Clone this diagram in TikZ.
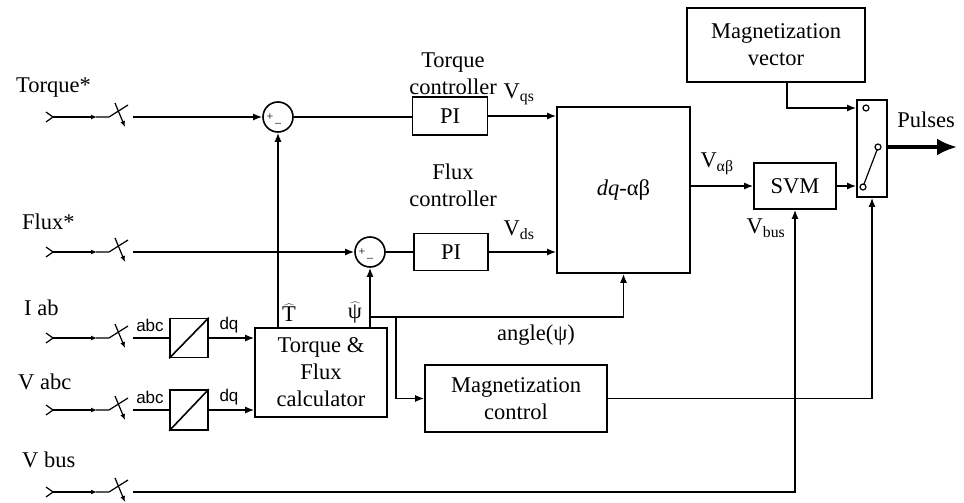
\documentclass[tikz,border=0pt]{standalone}
\usepackage{fontspec}
\setmainfont{Liberation Serif}
\newfontfamily\lsans{Liberation Sans}
\usetikzlibrary{arrows.meta}
\newcommand{\inpsym}[2]{%
  \begin{scope}[shift={(0,#2)}]
    \draw[line width=1.2pt] (46,-5) -- (53,0) -- (46,5);
    \draw[line width=1.2pt, -{Latex[length=6pt,width=5pt]}] (53,0) -- (97,0);
    \draw[line width=1.2pt] (96,0) -- (109,0) -- (128,-12);
    \draw[line width=1.2pt, -{Latex[length=6pt,width=5pt]}] (115,-14) -- (125,10);
    \coordinate (#1) at (133,0);
  \end{scope}}
\begin{document}
\begin{tikzpicture}[x=1pt,y=-1pt,
  every node/.style={font=\fontsize{22.5}{27}\selectfont, inner sep=0pt, align=center},
  blk/.style={draw, line width=1.6pt, rectangle},
  wire/.style={line width=1.6pt},
  arr/.style={line width=1.6pt, -{Latex[length=9pt,width=7pt]}},
  sumc/.style={draw, circle, line width=1.6pt, minimum size=30pt},
  small/.style={font=\lsans\fontsize{17}{17}\selectfont},
  sgn/.style={font=\fontsize{12}{12}\selectfont}]
\fill[white] (0,0) rectangle (964,503);
\useasboundingbox (0,0) rectangle (964,503);

% input labels
\node[anchor=west] (lT) at (16,88) {Torque*};
\node[anchor=west] (lF) at (22,222) {Flux*};
\node[anchor=west] (lI) at (24,308) {I ab};
\node[anchor=west] (lV) at (18,382) {V abc};
\node[anchor=west] (lB) at (22,460) {V bus};

% input symbols
\inpsym{inT}{117}
\inpsym{inF}{252}
\inpsym{inI}{338}
\inpsym{inV}{410}
\inpsym{inB}{492}

% blocks
\node[sumc] (s1) at (278,117) {};
\node[sumc] (s2) at (370,252) {};
\node[sgn] at ([xshift=-8pt]s1.center) {+};
\node[sgn] at ([yshift=-8pt]s1.center) {--};
\node[sgn] at ([xshift=-8pt]s2.center) {+};
\node[sgn] at ([yshift=-8pt]s2.center) {--};

\node[blk, minimum width=75pt, minimum height=38pt] (pi1) at (450,116) {PI};
\node[blk, minimum width=74pt, minimum height=37pt] (pi2) at (451,252) {PI};
\node[blk, minimum width=133pt, minimum height=166pt] (dq) at (623.5,190) {\textit{dq}-αβ};
\node[blk, minimum width=82pt, minimum height=46pt] (svm) at (795,186) {SVM};
\node[blk, minimum width=178pt, minimum height=74pt] (mv) at (776,45) {Magnetization\\vector};
\node[blk, minimum width=30pt, minimum height=97pt] (sw) at (872,148.5) {};
\node[blk, minimum width=132pt, minimum height=89pt] (calc) at (321,372.5) {Torque \&\\Flux\\calculator};
\node[blk, minimum width=182pt, minimum height=67pt] (mc) at (516,398.5) {Magnetization\\control};
\node[blk, minimum width=38pt, minimum height=39pt] (c1) at (189,338) {};
\node[blk, minimum width=38pt, minimum height=40pt] (c2) at (189,410) {};
\draw[wire] (c1.south west) -- (c1.north east);
\draw[wire] (c2.south west) -- (c2.north east);

% switch internals
\coordinate (swa) at (866,108);
\coordinate (swo) at (878,147);
\coordinate (swb) at (863,187);
\draw[line width=1.2pt] (swa) circle (3);
\draw[line width=1.2pt] (swo) circle (3);
\draw[line width=1.2pt] (swb) circle (3);
\draw[line width=1.2pt] ([shift={(1,-3)}]swb) -- ([shift={(-1,3)}]swo);

% labels
\node (lTc) at (453,74) {Torque\\controller};
\node (lFc) at (453,185) {Flux\\controller};
\node (vqs) at (519,94) {V\textsubscript{qs}};
\node (vds) at (519,230) {V\textsubscript{ds}};
\node (vab) at (717,164) {V\textsubscript{αβ}};
\node (vbus) at (766,228) {V\textsubscript{bus}};
\node (pul) at (926,120) {Pulses};
\node (ang) at (536,335) {angle(ψ)};
\node (that) at (289,313) {$\widehat{\hbox{T}}$};
\node (phat) at (355,313) {$\widehat{\hbox{ψ}}$};
\node[small] (a1) at (150,325) {abc};
\node[small] (d1) at (229,325) {dq};
\node[small] (a2) at (150,397) {abc};
\node[small] (d2) at (229,397) {dq};

% connectors
\draw[arr] (inT) -- (s1.west);
\draw[arr] (inF) -- (s2.west);
\draw[wire] (inI) -- (c1.west);
\draw[wire] (inV) -- (c2.west);
\draw[arr] (c1.east) -- (c1.east -| calc.west);
\draw[arr] (c2.east) -- (c2.east -| calc.west);
\draw[wire] (s1.east) -- (s1.east -| pi1.west);
\draw[wire] (s2.east) -- (pi2.west);
\draw[arr] (pi1.east) -- (pi1.east -| dq.west);
\draw[arr] (pi2.east) -- (pi2.east -| dq.west);
\draw[arr] (calc.north -| s1) -- (s1.south);
\draw[arr] (calc.north -| s2) -- (s2.south);
\coordinate (j1) at (370,317);
\coordinate (j2) at (396,317);
\draw[arr] (j1) -| (dq.south);
\draw[arr] (j2) |- (mc.west);
\draw[arr] (svm.west -| dq.east) -- (svm.west);
\draw[arr] (svm.east) -- (svm.east -| sw.west);
\coordinate (mvx) at (787,0);
\draw[arr] (mv.south -| mvx) |- (sw.west |- swa);
\draw[arr] (mc.east) -| (sw.south);
\draw[arr] (inB) -| (svm.south);
\coordinate (pend) at (957,147);
\draw[line width=3.5pt, -{Latex[length=20pt,width=17pt]}] (sw.east |- swo) -- (pend);
\end{tikzpicture}
\end{document}
